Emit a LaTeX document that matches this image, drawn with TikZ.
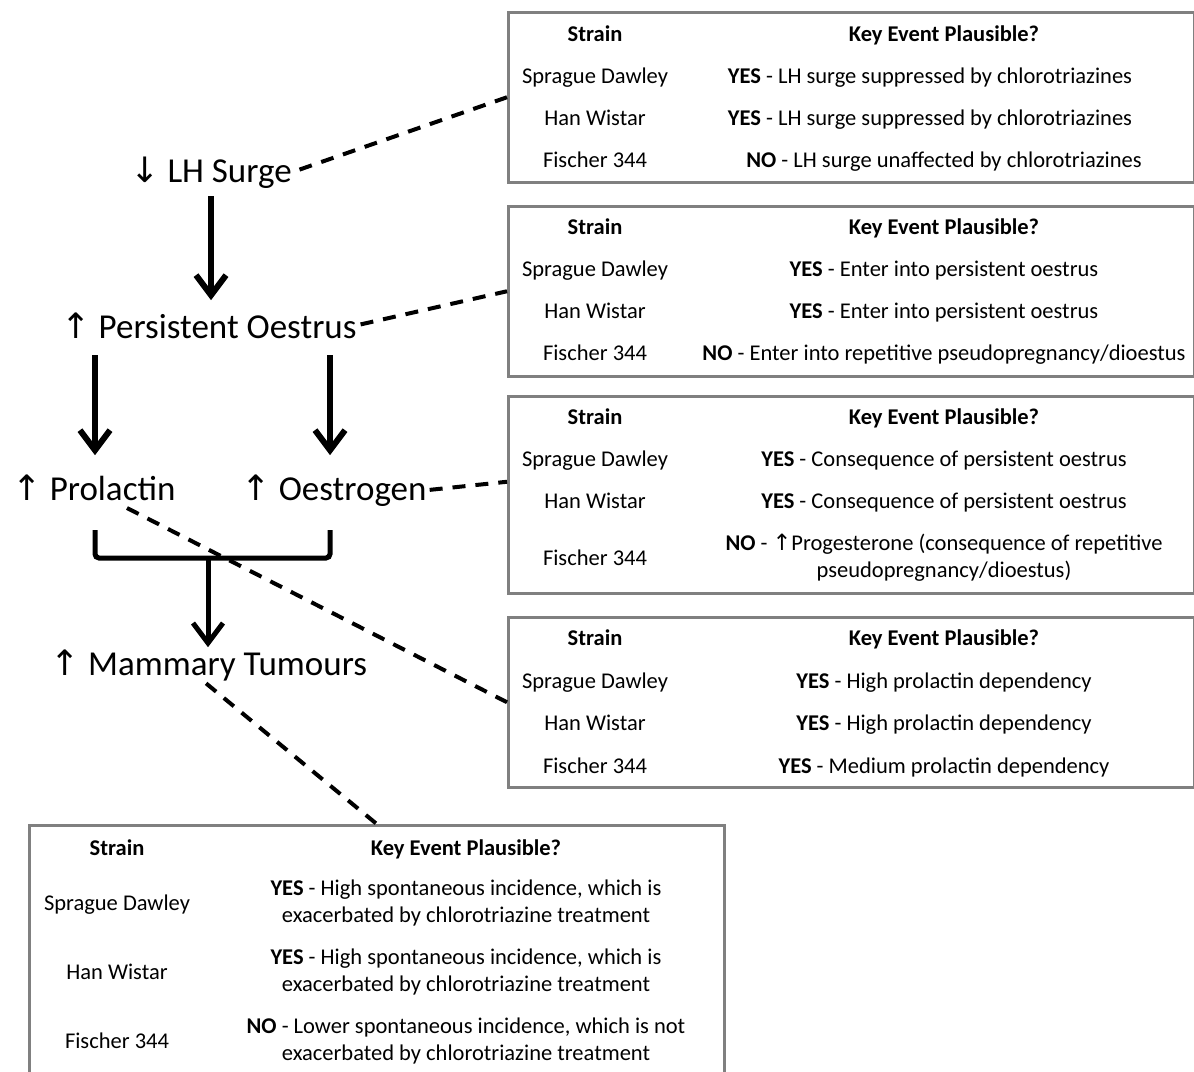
\documentclass[tikz,border=0pt]{standalone}
\usepackage{fontspec}
\setmainfont{Carlito}
\newfontfamily\arrowfont{DejaVu Sans}
\newcommand{\up}{{\arrowfont ↑}}
\newcommand{\down}{{\arrowfont ↓}}
\usetikzlibrary{arrows.meta}
\tikzstyle{event} = [inner sep=0pt, anchor=base, font=\fontsize{35}{42}\selectfont]
\tikzstyle{cell} = [inner sep=0pt, anchor=base, font=\fontsize{22.5}{27}\selectfont]
\tikzstyle{head} = [inner sep=0pt, anchor=base, font=\fontsize{22.5}{27}\selectfont\bfseries]
\tikzstyle{wrap} = [inner sep=0pt, align=center, font=\fontsize{22.5}{27}\selectfont]
\tikzstyle{tablebox} = [rectangle, draw=black!50, line width=2.5pt, anchor=north west, inner sep=0pt, minimum width=686pt]
\tikzstyle{arrow} = [line width=6pt, -{Straight Barb[length=20pt,width=30pt]}, shorten <=8pt, shorten >=12pt]
\tikzstyle{bracket} = [line width=5pt, rounded corners=4pt]
\tikzstyle{link} = [line width=4pt, dash pattern=on 13pt off 10pt]

\begin{document}
\begin{tikzpicture}[x=1pt, y=-1pt]
  \clip (0,0) rectangle (1194,1071);
  \fill [white] (0,0) rectangle (1194,1071);
  % key events
  \node (lh) [event] at (211,182) {\down{} LH Surge};
  \node (po) [event] at (209,338) {\up{} Persistent Oestrus};
  \node (prol) [event] at (94,500) {\up{} Prolactin};
  \node (oest) [event] at (334,500) {\up{} Oestrogen};
  \node (mam) [event] at (209,675) {\up{} Mammary Tumours};
  \coordinate (bl) at (95,530);
  \coordinate (br) at (330,530);
  \coordinate (split) at (208,558);

  % table 1 - LH surge
  \node (tab1) [tablebox, minimum height=170pt] at (507,11) {};
  \node (t1s) [head] at (595,41) {Strain};
  \node (t1k) [head] at (944,41) {Key Event Plausible?};
  \node (t1sd) [cell] at (595,83) {Sprague Dawley};
  \node (t1sdk) [cell] at (930,83) {\textbf{YES} - LH surge suppressed by chlorotriazines};
  \node (t1hw) [cell] at (595,125) {Han Wistar};
  \node (t1hwk) [cell] at (930,125) {\textbf{YES} - LH surge suppressed by chlorotriazines};
  \node (t1f) [cell] at (595,167) {Fischer 344};
  \node (t1fk) [cell] at (944,167) {\textbf{NO} - LH surge unaffected by chlorotriazines};

  % table 2 - persistent oestrus
  \node (tab2) [tablebox, minimum height=170pt] at (507,205) {};
  \node (t2s) [head] at (595,234) {Strain};
  \node (t2k) [head] at (944,234) {Key Event Plausible?};
  \node (t2sd) [cell] at (595,276) {Sprague Dawley};
  \node (t2sdk) [cell] at (944,276) {\textbf{YES} - Enter into persistent oestrus};
  \node (t2hw) [cell] at (595,318) {Han Wistar};
  \node (t2hwk) [cell] at (944,318) {\textbf{YES} - Enter into persistent oestrus};
  \node (t2f) [cell] at (595,360) {Fischer 344};
  \node (t2fk) [cell] at (944,360) {\textbf{NO} - Enter into repetitive pseudopregnancy/dioestus};

  % table 3 - oestrogen
  \node (tab3) [tablebox, minimum height=197pt] at (507,395) {};
  \node (t3s) [head] at (595,424) {Strain};
  \node (t3k) [head] at (944,424) {Key Event Plausible?};
  \node (t3sd) [cell] at (595,466) {Sprague Dawley};
  \node (t3sdk) [cell] at (944,466) {\textbf{YES} - Consequence of persistent oestrus};
  \node (t3hw) [cell] at (595,508) {Han Wistar};
  \node (t3hwk) [cell] at (944,508) {\textbf{YES} - Consequence of persistent oestrus};
  \node (t3f) [cell] at (595,565) {Fischer 344};
  \node (t3fk) [wrap] at (944,558) {\textbf{NO} - \up{}Progesterone (consequence of repetitive\\ pseudopregnancy/dioestus)};

  % table 4 - prolactin
  \node (tab4) [tablebox, minimum height=170pt] at (507,616) {};
  \node (t4s) [head] at (595,645) {Strain};
  \node (t4k) [head] at (944,645) {Key Event Plausible?};
  \node (t4sd) [cell] at (595,688) {Sprague Dawley};
  \node (t4sdk) [cell] at (944,688) {\textbf{YES} - High prolactin dependency};
  \node (t4hw) [cell] at (595,730) {Han Wistar};
  \node (t4hwk) [cell] at (944,730) {\textbf{YES} - High prolactin dependency};
  \node (t4f) [cell] at (595,773) {Fischer 344};
  \node (t4fk) [cell] at (944,773) {\textbf{YES} - Medium prolactin dependency};

  % table 5 - mammary tumours
  \node (tab5) [tablebox, minimum width=695pt, minimum height=270pt] at (28,824) {};
  \node (t5s) [head] at (117,855) {Strain};
  \node (t5k) [head] at (466,855) {Key Event Plausible?};
  \node (t5sd) [cell] at (117,910) {Sprague Dawley};
  \node (t5sdk) [wrap] at (466,903) {\textbf{YES} - High spontaneous incidence, which is\\ exacerbated by chlorotriazine treatment};
  \node (t5hw) [cell] at (117,979) {Han Wistar};
  \node (t5hwk) [wrap] at (466,972) {\textbf{YES} - High spontaneous incidence, which is\\ exacerbated by chlorotriazine treatment};
  \node (t5f) [cell] at (117,1048) {Fischer 344};
  \node (t5fk) [wrap] at (466,1041) {\textbf{NO} - Lower spontaneous incidence, which is not\\ exacerbated by chlorotriazine treatment};

  % pathway arrows
  \draw [arrow] (lh.south) -- (lh.south |- po.north);
  \draw [arrow, shorten <=17pt, shorten >=19pt] (po.south -| bl) -- (bl |- prol.north);
  \draw [arrow, shorten <=17pt, shorten >=19pt] (po.south -| br) -- (br |- oest.north);
  \draw [bracket] (bl) |- (split) -| (br);
  \draw [arrow, line width=5pt, shorten <=0pt, shorten >=2pt] (split) -- (split |- mam.north);

  % links to the tables
  \draw [link, shorten <=8pt] (lh.east) -- (tab1.west);
  \draw [link, shorten <=4pt] (po.east) -- (tab2.west);
  \draw [link, shorten <=3pt] (oest.east) -- ([yshift=13pt]tab3.west);
  \draw [link] ([xshift=33pt, yshift=-8pt]prol.base) -- (tab4.west);
  \draw [link, shorten <=4pt] ([xshift=-6pt]mam.south) -- (tab5.north);
\end{tikzpicture}
\end{document}
